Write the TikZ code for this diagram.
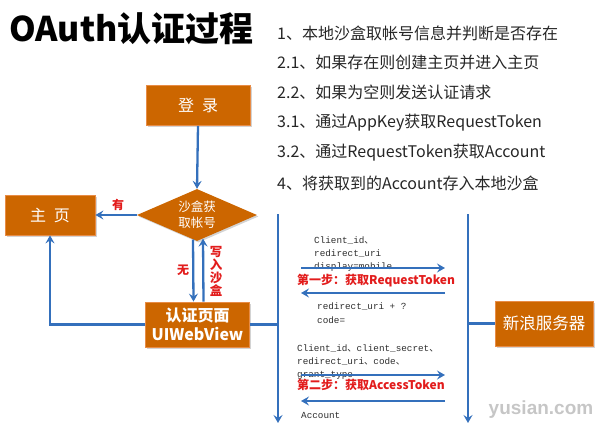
\documentclass[tikz,border=0pt]{standalone}
\usepackage{fontspec}
\setmainfont{Noto Sans CJK SC}
\newfontfamily\monofont{Liberation Mono}
\newfontfamily\cjk{Noto Sans CJK SC}
\newfontfamily\wmfont{Liberation Sans}
\usetikzlibrary{shapes.geometric,arrows.meta,shadows}
\definecolor{boxorange}{RGB}{204,102,0}
\definecolor{boxedge}{RGB}{232,140,70}
\definecolor{lineblue}{RGB}{52,112,188}
\definecolor{labelred}{RGB}{226,28,28}
\definecolor{textgray}{RGB}{45,45,45}
\tikzset{
  obox/.style={rectangle, fill=boxorange, draw=boxedge, line width=0.8pt, text=white,
    inner sep=0pt, align=center, drop shadow={opacity=0.35, shadow xshift=1.5pt, shadow yshift=-1.5pt}},
  odia/.style={diamond, fill=boxorange, text=white, inner sep=0pt, aspect=2.3,
    minimum width=120pt, minimum height=52pt, align=center,
    drop shadow={opacity=0.35, shadow xshift=1.5pt, shadow yshift=-1.5pt}},
  conn/.style={draw=lineblue, line width=2.3pt},
  arr/.style={conn, -{Stealth[length=8pt,width=9pt,inset=3pt]}},
  redlab/.style={text=labelred, font=\bfseries\fontsize{12}{13}\selectfont, inner sep=0pt},
  monotext/.style={text=textgray, font=\monofont\fontsize{9.3}{10}\selectfont, inner sep=0pt, anchor=west},
  listtext/.style={text=black!85, font=\fontsize{16}{17}\selectfont, inner sep=0pt, anchor=west},
}
\begin{document}
\begin{tikzpicture}[x=1pt,y=-1pt]
\useasboundingbox (0,0) rectangle (600,436);
% title
\node[anchor=west, inner sep=0pt, font=\bfseries\fontsize{34}{36}\selectfont] (title) at (9,29) {OAuth认证过程};
% list
\node[listtext] (l1) at (277,33) {1、本地沙盒取帐号信息并判断是否存在};
\node[listtext] (l2) at (277,62) {2.1、如果存在则创建主页并进入主页};
\node[listtext] (l3) at (277,92) {2.2、如果为空则发送认证请求};
\node[listtext] (l4) at (277,123) {3.1、通过AppKey获取RequestToken};
\node[listtext] (l5) at (277,153) {3.2、通过RequestToken获取Account};
\node[listtext] (l6) at (277,183) {4、将获取到的Account存入本地沙盒};
% boxes
\node[obox, minimum width=104pt, minimum height=40pt, font=\fontsize{16}{18}\selectfont] (login) at (198,105.5) {登\hspace{0.5em}录};
\node[odia, font=\fontsize{12.5}{16}\selectfont] (dia) at (197,215) {沙盒获\\取帐号};
\node[obox, minimum width=90pt, minimum height=40pt, font=\fontsize{16}{18}\selectfont] (home) at (50,215) {主\hspace{0.5em}页};
\node[obox, minimum width=104pt, minimum height=45pt, font=\bfseries\fontsize{16}{19}\selectfont] (auth) at (197.5,324.5) {认证页面\\UIWebView};
\node[obox, minimum width=98pt, minimum height=45pt, font=\fontsize{16.5}{18}\selectfont] (server) at (544,323.5) {新浪服务器};
% lifelines
\coordinate (L1) at (278,214);
\coordinate (L2) at (278,423);
\coordinate (R1) at (468,214);
\coordinate (R2) at (468,423);
\draw[arr] (L1) -- (L2);
\draw[arr] (R1) -- (R2);
% flow connectors
\draw[arr] (login.south) -- (dia.north);
\draw[arr] (dia.west) -- (home.east);
\node[redlab] (you) at (118,205) {有};
\draw[arr] ([xshift=-4pt,yshift=1.7pt]dia.south) -- ([xshift=-4pt]auth.north);
\draw[arr] ([xshift=6pt]auth.north) -- ([xshift=6pt,yshift=2.6pt]dia.south);
\node[redlab] (wu) at (183,270) {无};
\node[redlab, align=center, font=\bfseries\fontsize{12.5}{13}\selectfont] (write) at (216,271) {写\\入\\沙\\盒};
\draw[arr] (auth.west) -| (home.south);
\draw[conn] (auth.east) -- (auth.east -| L1);
\draw[conn] (server.west) -- (server.west -| R1);
% messages
\coordinate (m1a) at (301,268); \coordinate (m1b) at (445,268);
\coordinate (m2a) at (445,293); \coordinate (m2b) at (301,293);
\coordinate (m3a) at (301,375); \coordinate (m3b) at (445,375);
\coordinate (m4a) at (445,401); \coordinate (m4b) at (301,401);
\node[monotext] (t1) at (314,241) {Client\_id{\cjk 、}};
\node[monotext] (t2) at (314,254) {redirect\_uri};
\node[monotext] (t3) at (314,267) {display=mobile};
\draw[arr] (m1a) -- (m1b);
\node[redlab, anchor=west] (s1) at (297,281) {第一步：获取RequestToken};
\draw[arr] (m2a) -- (m2b);
\node[monotext] (t4) at (317,307) {redirect\_uri + ?};
\node[monotext] (t5) at (317,320) {code=};
\node[monotext] (t6) at (297,349) {Client\_id{\cjk 、}client\_secret{\cjk 、}};
\node[monotext] (t7) at (297,362) {redirect\_uri{\cjk 、}code{\cjk 、}};
\node[monotext] (t8) at (297,375) {grant\_type};
\draw[arr] (m3a) -- (m3b);
\node[redlab, anchor=west] (s2) at (297,385) {第二步：获取AccessToken};
\draw[arr] (m4a) -- (m4b);
\node[monotext] (t9) at (301,415) {Account};
% watermark
\node[inner sep=0pt, text=gray!45, font=\wmfont\bfseries\fontsize{19}{21}\selectfont] (wm) at (541,410) {yusian.com};
\end{tikzpicture}
\end{document}
